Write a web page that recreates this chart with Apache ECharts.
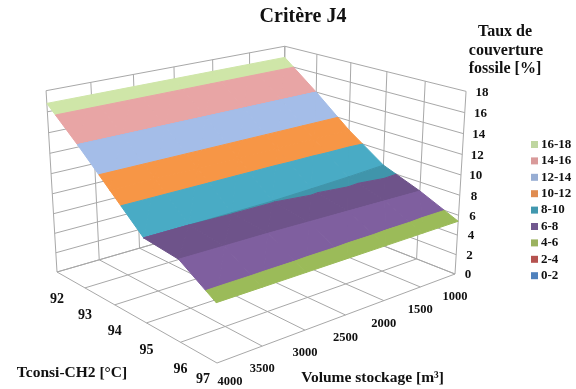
<!DOCTYPE html>
<html><head><meta charset="utf-8">
<style>html,body{margin:0;padding:0;background:#fff}#c{width:576px;height:389px}</style>
<script src="https://cdn.jsdelivr.net/npm/echarts@6/dist/echarts.min.js"></script>
</head><body><div id="c"></div>
<script>
// ---- data ----
const temps = [92, 93, 94, 95, 96, 97];
const volumes = [1000, 1500, 2000, 2500, 3000, 3500, 4000];
const zTicks = [0, 2, 4, 6, 8, 10, 12, 14, 16, 18];
const rowT92 = [16.8, 16.8, 16.8, 16.8, 16.8, 16.8, 16.8];
const rowT93 = [14, 14, 14, 14, 14, 14, 14];
const rowT94 = [11, 11, 11, 11, 11, 11, 11];
const rowT95 = [8.5, 8.3, 8.15, 8.03, 8.02, 8.0, 8.0];
const rowT96 = [7.1, 7.2, 7.3, 7.4, 7.5, 7.55, 7.6];
const rowT97 = [5.4, 5.4, 5.4, 5.4, 5.4, 5.4, 5.4];
const surface = [rowT92, rowT93, rowT94, rowT95, rowT96, rowT97];
const bandNames = ['16-18', '14-16', '12-14', '10-12', '8-10', '6-8', '4-6', '2-4', '0-2'];
const bandLows = [16, 14, 12, 10, 8, 6, 4, 2, 0];
const bandFill = ['#cfe6a8', '#e8a5a5', '#a4bde8', '#f79646', '#49abc5', '#7f5f9f', '#9bbb59', '#c0504d', '#4f81bd'];
const bandLegend = ['#bfd6a0', '#d99a9a', '#97add3', '#e08c50', '#4198af', '#71588f', '#9bb25f', '#b5524f', '#4f81bd'];
const rowShade = [1, 1, 1, 0.87, 1];

function shade(hex, f) {
  const n = parseInt(hex.slice(1), 16);
  return 'rgb(' + [(n >> 16) & 255, (n >> 8) & 255, n & 255].map(c => Math.round(c * f)).join(',') + ')';
}

// ---- box projection (cube -> screen) ----
const L = [57, 272], F = [217, 363], R = [455, 274], B = [283.5, 206.5];
const vanish = [255.7, 3567], leftTopY = 90.7;
const hom = (() => {
  const dx1 = F[0] - R[0], dx2 = B[0] - R[0], sx = L[0] - F[0] + R[0] - B[0];
  const dy1 = F[1] - R[1], dy2 = B[1] - R[1], sy = L[1] - F[1] + R[1] - B[1];
  const den = dx1 * dy2 - dx2 * dy1;
  const i = (sx * dy2 - dx2 * sy) / den, j = (dx1 * sy - sx * dy1) / den;
  const k = (L[1] - leftTopY) / (leftTopY - vanish[1]);
  return {
    a: F[0] - L[0] + i * F[0], b: B[0] - L[0] + j * B[0], c: vanish[0] * k, d: L[0],
    e: F[1] - L[1] + i * F[1], f: B[1] - L[1] + j * B[1], g: vanish[1] * k, h: L[1],
    i, j, k
  };
})();
function project(t, v, z) {
  const u = (t - 92) / 5, w = (4000 - v) / 3000, s = z / 18, H = hom;
  const q = H.i * u + H.j * w + H.k * s + 1;
  return [(H.a * u + H.b * w + H.c * s + H.d) / q, (H.e * u + H.f * w + H.g * s + H.h) / q];
}

function clipZ(poly, limit, keepAbove) {
  const out = [];
  for (let n = 0; n < poly.length; n++) {
    const p = poly[n], q = poly[(n + 1) % poly.length];
    const pin = keepAbove ? p[2] >= limit : p[2] <= limit;
    const qin = keepAbove ? q[2] >= limit : q[2] <= limit;
    if (pin) out.push(p);
    if (pin !== qin) {
      const r = (limit - p[2]) / (q[2] - p[2]);
      out.push([p[0] + r * (q[0] - p[0]), p[1] + r * (q[1] - p[1]), limit]);
    }
  }
  return out;
}

const cells = [];
for (let r = 0; r < temps.length - 1; r++) for (let c = 0; c < volumes.length - 1; c++) cells.push([r, c]);

function surfaceSeries(b) {
  const lo = bandLows[b], hi = lo + 2;
  return {
    type: 'custom', name: bandNames[b], coordinateSystem: 'cartesian2d', clip: false, silent: true,
    itemStyle: { color: bandLegend[b] }, z: 5, animation: false, data: cells,
    renderItem(params, api) {
      const r = api.value(0), c = api.value(1);
      const V = (i, j) => [temps[i], volumes[j], surface[i][j]];
      const tris = [[V(r, c), V(r + 1, c), V(r + 1, c + 1)], [V(r, c), V(r + 1, c + 1), V(r, c + 1)]];
      const color = shade(bandFill[b], rowShade[r]);
      const children = [];
      tris.forEach(tri => {
        const poly = clipZ(clipZ(tri, lo, true), hi, false);
        if (poly.length < 3) return;
        children.push({
          type: 'polygon',
          shape: { points: poly.map(p => api.coord(project(p[0], p[1], p[2]))) },
          style: { fill: color, stroke: color, lineWidth: 1 }
        });
      });
      return { type: 'group', children };
    }
  };
}

const gridSegs = [];
const T0 = temps[0], T1 = temps[temps.length - 1], V0 = volumes[0], V1 = volumes[volumes.length - 1], Z1 = zTicks[zTicks.length - 1];
zTicks.forEach(z => { gridSegs.push([[T0, V1, z], [T0, V0, z]]); gridSegs.push([[T0, V0, z], [T1, V0, z]]); });
volumes.forEach(v => { gridSegs.push([[T0, v, 0], [T0, v, Z1]]); gridSegs.push([[T0, v, 0], [T1, v, 0]]); });
temps.forEach(t => { gridSegs.push([[t, V0, 0], [t, V0, Z1]]); gridSegs.push([[t, V0, 0], [t, V1, 0]]); });

const gridSeries = {
  type: 'custom', name: 'box', coordinateSystem: 'cartesian2d', clip: false, silent: true, z: 1, animation: false,
  data: gridSegs.map((s, i) => [i, 0]),
  renderItem(params, api) {
    const s = gridSegs[api.value(0)];
    const a = api.coord(project(s[0][0], s[0][1], s[0][2])), b = api.coord(project(s[1][0], s[1][1], s[1][2]));
    return { type: 'line', shape: { x1: a[0], y1: a[1], x2: b[0], y2: b[1] }, style: { stroke: '#a8a8a8', lineWidth: 1 } };
  }
};

const serif = '"Liberation Serif","Times New Roman",serif';
const txt = (text, x, y, size, align) => ({
  type: 'text', z: 10, silent: true,
  style: { text: String(text), x, y, fill: '#111', font: 'bold ' + size + 'px ' + serif, align: align || 'center', verticalAlign: 'middle' }
});
const texts = [
  txt('Critère J4', 303, 17, 20),
  txt('Taux de', 505, 32, 16), txt('couverture', 506, 51, 16), txt('fossile [%]', 505, 69, 16),
  txt('Tconsi-CH2 [°C]', 72, 373, 15.5), txt('Volume stockage [m³]', 372.5, 378, 15.5)
];
zTicks.forEach(z => { const p = project(T1, V0, z); texts.push(txt(z, p[0] + 13 + 3 * z / 18, p[1] + 1, 13)); });
temps.forEach((t, i) => {
  const p = project(t, V1, 0), last = i === temps.length - 1;
  texts.push(txt(t, last ? p[0] - 14 : p[0], last ? p[1] + 16 : p[1] + 27, 14));
});
volumes.forEach(v => {
  const p = project(T1, v, 0), last = v === V1;
  texts.push(txt(v, last ? p[0] + 13 : p[0], last ? p[1] + 19 : p[1] + 23, 12.5));
});

const chart = echarts.init(document.getElementById('c'), null, { renderer: 'canvas' });
chart.setOption({
  animation: false,
  backgroundColor: '#fff',
  grid: { left: 0, right: 0, top: 0, bottom: 0 },
  xAxis: { type: 'value', min: 0, max: 576, show: false },
  yAxis: { type: 'value', min: 0, max: 389, inverse: true, show: false },
  legend: {
    orient: 'vertical', left: 531, top: 138, itemWidth: 7, itemHeight: 7, itemGap: 3.4, icon: 'rect',
    selectedMode: false, data: bandNames, padding: 0,
    textStyle: { fontFamily: serif, fontWeight: 'bold', fontSize: 13, color: '#111', padding: [0, 0, 0, -2], lineHeight: 12 }
  },
  graphic: texts,
  series: [gridSeries].concat(bandNames.map((n, b) => surfaceSeries(b)))
});
</script></body></html>
